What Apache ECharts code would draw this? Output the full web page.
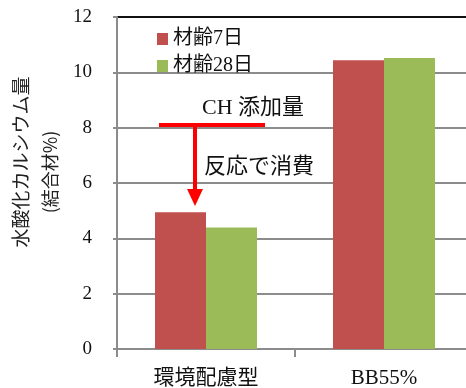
<!DOCTYPE html>
<html>
<head>
<meta charset="utf-8">
<script src="https://cdn.jsdelivr.net/npm/echarts@6/dist/echarts.min.js"></script>
<style>html,body{margin:0;padding:0;background:#fff}#c{width:466px;height:388px}</style>
</head>
<body>
<div id="c"></div>
<script>
const categories = ['環境配慮型', 'BB55%'];
const seriesNames = ['材齢7日', '材齢28日'];
const age7 = [4.94, 10.44];
const age28 = [4.39, 10.52];
const yTicks = [0, 2, 4, 6, 8, 10, 12];
const yTitle1 = '水酸化カルシウム量';
const yTitle2 = '(結合材%)';
const noteAdd = 'CH 添加量';
const noteUse = '反応で消費';

const serif = '"Liberation Serif", "Noto Sans CJK JP", serif';
const gray = '#8c8c8c';
const chart = echarts.init(document.getElementById('c'), null, {renderer: 'canvas'});
chart.setOption({
  animation: false,
  backgroundColor: '#fff',
  grid: {left: 117, top: 17, width: 356, height: 332, containLabel: false, outerBoundsMode: 'none'},
  legend: {
    data: seriesNames,
    orient: 'vertical',
    left: 152, top: 24,
    itemWidth: 11, itemHeight: 12, itemGap: 7, itemTextGap: 5,
    icon: 'rect',
    textStyle: {fontFamily: serif, fontSize: 20, color: '#111'}
  },
  xAxis: {
    type: 'category', data: categories,
    axisLine: {lineStyle: {color: gray, width: 2}},
    axisTick: {show: true, length: 8, lineStyle: {color: gray, width: 2}},
    axisLabel: {fontFamily: serif, fontSize: 21, color: '#111', margin: 19}
  },
  yAxis: {
    type: 'value', min: yTicks[0], max: yTicks[yTicks.length - 1], interval: 2,
    axisLine: {show: true, lineStyle: {color: gray, width: 2}},
    axisTick: {show: true, length: 4, lineStyle: {color: gray, width: 2}},
    axisLabel: {fontFamily: serif, fontSize: 19, color: '#111', margin: 25},
    splitLine: {lineStyle: {color: [gray, gray, gray, gray, gray, gray, '#111'], width: 2}}
  },
  series: [
    {name: seriesNames[0], type: 'bar', data: age7, barWidth: 51, barGap: '0%', itemStyle: {color: '#C0504D'}},
    {name: seriesNames[1], type: 'bar', data: age28, barWidth: 51, itemStyle: {color: '#9BBB59'}}
  ],
  graphic: [
    {type: 'text', x: 21, y: 162, rotation: Math.PI / 2,
     style: {text: yTitle1, font: '19px "Noto Sans CJK JP", sans-serif', fill: '#222', textAlign: 'center', textVerticalAlign: 'middle'}},
    {type: 'text', x: 50, y: 172, rotation: Math.PI / 2,
     style: {text: yTitle2, font: '18px "Noto Sans CJK JP", sans-serif', fill: '#222', textAlign: 'center', textVerticalAlign: 'middle'}},
    {type: 'line', shape: {x1: 159, y1: 125, x2: 265, y2: 125}, style: {stroke: '#ff0000', lineWidth: 4}, z: 10},
    {type: 'line', shape: {x1: 195, y1: 125, x2: 195, y2: 191}, style: {stroke: '#ff0000', lineWidth: 4}, z: 10},
    {type: 'polygon', shape: {points: [[187, 189], [203, 189], [195, 206]]}, style: {fill: '#ff0000'}, z: 10},
    {type: 'text', x: 253, y: 108,
     style: {text: noteAdd, font: '22px ' + serif, fill: '#111', textAlign: 'center', textVerticalAlign: 'middle'}, z: 10},
    {type: 'text', x: 259, y: 167,
     style: {text: noteUse, font: '22px ' + serif, fill: '#111', textAlign: 'center', textVerticalAlign: 'middle'}, z: 10}
  ]
});
</script>
</body>
</html>
